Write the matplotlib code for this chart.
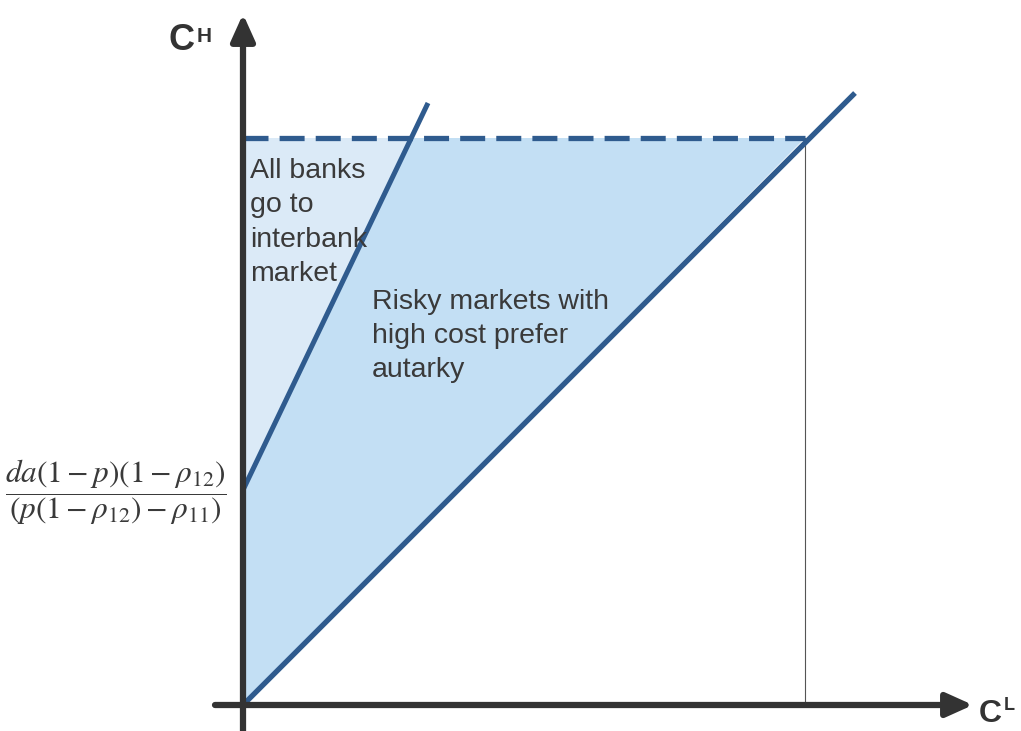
import matplotlib.pyplot as plt

# chart values (pixel-like units, origin at the axes' crossing)
steep_x = [0, 185]
steep_y = [215, 602]
diag_x = [0, 612]
diag_y = [0, 612]
ch_top = 567
cl_cross = 562
steep_at_top = 168

label_left = "All banks\ngo to\ninterbank\nmarket"
label_mid = "Risky markets with\nhigh cost prefer\nautarky"
intercept_label = r"$\dfrac{da(1-p)(1-\rho_{12})}{(p(1-\rho_{12})-\rho_{11})}$"

line_col = "#2f5b8e"
axis_col = "#333333"
text_col = "#3a3a3a"

plt.rcParams["font.family"] = ["Liberation Sans", "DejaVu Sans"]
plt.rcParams["mathtext.fontset"] = "stix"
plt.rcParams["lines.scale_dashes"] = False

fig = plt.figure(figsize=(10.21, 7.31), dpi=100)
ax = fig.add_axes([0, 0, 1, 1])
ax.set_xlim(-243, 1021 - 243)
ax.set_ylim(705 - 731, 705)
ax.axis("off")

# shaded regions
ax.fill([0, 0, steep_at_top], [steep_y[0], ch_top, ch_top], color="#dbeaf7", lw=0, zorder=1)
ax.fill([0, 0, steep_at_top, cl_cross], [0, steep_y[0], ch_top, ch_top], color="#c3dff4", lw=0, zorder=1)

# guide lines
ax.plot([0, cl_cross], [ch_top, ch_top], color=line_col, lw=3.8, dashes=(18, 8), zorder=3)
ax.plot([cl_cross, cl_cross], [0, ch_top], color="#555555", lw=0.8, zorder=2)
ax.plot(steep_x, steep_y, color=line_col, lw=3.6, solid_capstyle="butt", zorder=3)
ax.plot(diag_x, diag_y, color=line_col, lw=3.8, solid_capstyle="butt", zorder=3)

# axes with arrows
arrow = dict(arrowstyle="-|>,head_length=1.6,head_width=0.72", lw=4.5,
             color=axis_col, shrinkA=0, shrinkB=0)
ax.annotate("", xy=(0, 691), xytext=(0, -26), arrowprops=arrow, zorder=4)
ax.annotate("", xy=(730, 0), xytext=(-28, 0), arrowprops=arrow, zorder=4)

# axis labels
ax.text(-75, 665, "C", fontsize=26, fontweight="bold", color=axis_col, ha="left", va="center")
ax.text(-46, 669, "H", fontsize=15, fontweight="bold", color=axis_col, ha="left", va="center")
ax.text(736, -9, "C", fontsize=23, fontweight="bold", color=axis_col, ha="left", va="center")
ax.text(761, -1, "L", fontsize=13, fontweight="bold", color=axis_col, ha="left", va="center")

# region labels
ax.text(7, 547, label_left, fontsize=20.5, color=text_col, ha="left", va="top", linespacing=1.42, zorder=5)
ax.text(129, 416, label_mid, fontsize=20.5, color=text_col, ha="left", va="top", linespacing=1.4, zorder=5)

ax.text(-127, steep_y[0] - 2, intercept_label, fontsize=22.5, color=text_col, ha="center", va="center")

fig.savefig("out.png", dpi=100)
